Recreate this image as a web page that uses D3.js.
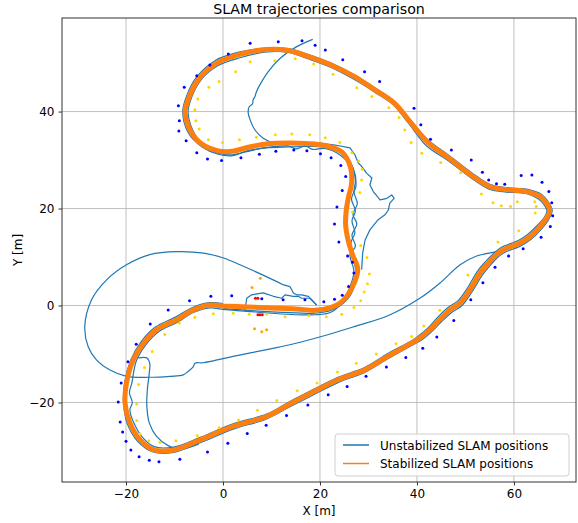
<!DOCTYPE html>
<html>
<head>
  <meta charset="utf-8">
  <title>SLAM trajectories comparison</title>
  <script src="https://cdnjs.cloudflare.com/ajax/libs/d3/7.8.5/d3.min.js"></script>
  <style>
    body { margin: 0; background: #fff; }
    text { font-family: "DejaVu Sans", sans-serif; fill: #000; }
  </style>
</head>
<body>
<script>
var width = 578, height = 523;

var xTicks = [-20, 0, 20, 40, 60];
var yTicks = [-20, 0, 20, 40];

// stabilized positions (one lap, [x, y] in m)
var stabilized = [[0,-0.1],[5,-0.3],[10,-0.5],[15,-0.7],[19,-1.0],[22,-0.5],[24.5,0.8],[26.5,3.5],[27.8,7.4],[26.7,10.5],[25.8,13.5],[25.3,16.5],[25.4,19.5],[25.9,22.5],[26.5,25],[26.3,28.5],[24.6,31.6],[21,33],[17,33.4],[13.5,33.5],[9,33.3],[5,32.6],[2,31.8],[-1,31.9],[-4.5,33.4],[-6.8,36.2],[-7.8,40],[-6.9,43.2],[-4.8,47],[-1.3,50],[3.5,51.8],[9,52.8],[13.5,52.6],[17.5,51.4],[22.3,49.6],[27.1,47.2],[31.3,44.5],[35.4,41.7],[38.8,37.6],[42.3,33.6],[46.6,30.4],[51.3,26.8],[55.1,24.5],[58.5,23.9],[62.6,23.5],[65.4,22.5],[66.7,21.1],[67.4,19.7],[66.7,18],[65.4,16.3],[63.3,14.2],[61.2,12.9],[57.8,11.5],[56.4,10.5],[54.4,8.4],[53,6.7],[50.9,3.2],[48.9,0.5],[46.8,-0.9],[44.7,-2.9],[42.7,-5],[40.6,-6.7],[38.8,-7.8],[34,-10.5],[29.2,-13.3],[23.7,-15.3],[18.9,-17.7],[13.6,-20.4],[9,-22.9],[2.1,-24.9],[-4.7,-27.7],[-10.2,-29.8],[-14.4,-29.7],[-17.1,-27.7],[-19.2,-24.2],[-20.2,-20.1],[-19.9,-16],[-18.5,-11.2],[-16.4,-7.8],[-13.7,-5],[-9.5,-2.9],[-6.1,-0.9],[-2.7,0.1],[0,-0.1]];

// unstabilized positions, laps along the track
var unstabLapA = [[0,-0.6],[5,-1.0],[10,-1.3],[15,-1.5],[19,-1.6],[22.5,-0.9],[25,0.6],[26.8,3.2],[27.4,7.0],[26.6,10.5],[26.4,13.0],[27.2,15.0],[26.6,17.5],[27.3,19.5],[26.5,22],[27.4,24.5],[26.9,28.2],[24.9,31.2],[21,32.6],[17,32.8],[13.5,32.7],[9,32.5],[5,31.9],[2,30.9],[-1,31.2],[-4.3,32.7],[-7.2,35.7],[-8.3,40],[-7.4,43.5],[-5.3,47.3],[-1.5,50.6],[1,51.6],[3.5,52.3],[9,53.1],[13.5,53],[17.5,51.8],[22.3,50],[27.1,47.6],[31.3,44.9],[35.4,42.1],[38.6,38.4],[42,34.4],[46.8,30.8],[51.4,27.3],[55,25],[58.5,24.3],[62.6,24],[65.7,22.9],[67.2,21.2],[67.9,19.7],[67.2,17.8],[65.8,15.9],[63.6,13.7],[61.4,12.3],[58,10.9],[56.6,9.9],[54.8,7.9],[53.5,6.3],[51.4,2.9],[49.3,0],[47.2,-1.4],[45,-3.4],[42.9,-5.5],[40.8,-7.2],[38.6,-8.4],[34,-11],[29.2,-13.8],[23.7,-15.9],[18.9,-18.3],[13.6,-21],[9,-23.4],[2.1,-25.5],[-4.7,-28.3],[-10.2,-30.3],[-14.4,-30.2],[-17.6,-28],[-19.8,-24.2],[-20.5,-20.1],[-20.3,-16],[-19,-11.2],[-16.9,-7.5],[-14,-4.5],[-9.8,-2.4],[-6.3,-0.4],[-2.7,0.6],[0,0.4]];
var unstabLapB = [[0,-0.8],[5,-1.2],[10,-1.6],[15,-1.9],[19,-1.9],[22,-1.5],[24.2,0.2],[26,3.4],[27,7],[26.2,10.5],[27.3,12.2],[26.6,14.5],[27.6,16.8],[26.8,18.8],[27.7,21],[27,23.4],[27.3,25.6],[26.8,28],[24.2,31],[21,32.4],[18.5,32.2],[17,32.9],[15,32.3],[13.5,32.9],[9,32.6],[6,32],[3.5,31.4],[2,31.1],[-1,31.4],[-4,32.9],[-6.3,36.3],[-7.2,40],[-6.4,43.1],[-4.4,46.7],[-1,49.5],[3.5,51.1],[9,52.3],[13.5,52.2],[17.5,50.9],[22.3,49.1],[27.1,46.6],[31.3,44],[35,41.5],[38.4,37.4],[41.9,33],[46.4,29.9],[51.3,26.2],[54.9,24],[58.5,23.4],[62.5,23.1],[65,22],[66.2,20.8],[66.8,19.6],[66.2,18.1],[64.9,16.6],[62.9,14.7],[60.9,13.4],[57.6,12.1],[56.1,11],[54,8.9],[52.5,7.1],[50.4,3.6],[48.5,1],[46.4,-0.4],[44.3,-2.4],[42.4,-4.5],[40.4,-6.2],[39,-7.2],[34,-9.9],[29.2,-12.8],[23.7,-14.8],[18.9,-17.2],[13.6,-19.9],[9,-22.4],[2.1,-24.4],[-4.7,-27.2],[-10.2,-29.2],[-14.2,-29.1],[-16.6,-27.2],[-18.4,-24.2],[-19.2,-21.5],[-18.7,-20],[-19.3,-18],[-18.8,-16],[-17.9,-11.5],[-16,-8.2],[-13.4,-5.5],[-9.3,-3.4],[-6,-1.4],[-2.7,-0.5],[0,-0.8]];

// unstabilized positions, drifting parts
var unstabUpper = [[18.5,54.9],[15.2,53.4],[11.8,51],[9.3,48.2],[7.6,45.5],[6.9,44.1],[6.6,43.1],[6.2,42.4],[6.1,41.6],[5.4,41],[5.2,39.7],[5.6,38.3],[6.6,36.2],[8.3,34.5],[10.4,33.5],[13.5,33.1]];
var unstabMiddle = [[20,33.5],[23.1,33.1],[26.2,32.5],[27.2,31.1],[27.9,29.4],[28.6,28.7],[29.6,27.3],[30.7,26.3],[30.3,24.9],[31,23.5],[32.4,21.8],[33.8,22.1],[34.8,22.8],[35.3,22.1],[34.4,21.1],[34.1,19.7],[33.4,18.7],[32,17.7],[30.3,15.6],[29.3,13.5],[28.8,10.8],[28.6,7.4]];
var unstabLoop = [[57.5,11.4],[56.4,11.1],[52.3,10.2],[48.9,8.4],[44.7,4.6],[40.6,1.5],[34,-2.1],[27.2,-4.3],[20.3,-6.4],[13.8,-8.1],[8,-9.3],[2.1,-10.5],[-2,-11.4],[-4.1,-11.8],[-5.8,-11.9],[-6.1,-12.6],[-7.2,-13.6],[-8.2,-14.3],[-10.9,-14.6],[-15.1,-14.8],[-19.9,-14.6],[-23.3,-13.3],[-26.1,-11.2],[-27.8,-8.5],[-28.5,-4.3],[-27.1,1.2],[-24,5.3],[-19.9,8.4],[-15.1,10.5],[-9.5,11.1],[-4,10.8],[0.1,9.8],[3.5,8.4],[9.7,5.6],[12.4,4.3]];
var unstabJag = [[12.4,4.3],[13.8,3.9],[14.2,3.2],[14.5,2.6],[15.2,2.2],[16.2,2.2],[17.6,1.9],[18.3,1.2],[19.3,0.1]];
var unstabJag2 = [[4.5,-1.2],[4.9,1.5],[5.9,2.2],[8.3,2.6],[10.4,1.9],[12.1,1.5],[12.8,2.2],[14.5,1.9],[15.5,1.9],[16.2,1.5],[17.9,1.5],[19.3,0.1]];
var unstabHook = [[-17.5,-10.8],[-15.7,-10.8],[-15.1,-11.9],[-15.2,-13.9],[-15.6,-17.4],[-15.7,-20.8],[-15.2,-24.2],[-13.7,-27],[-11.3,-28.9],[-8.9,-29.6],[-5,-28.6]];

// cones
var blueCones = [[5.6,54.1],[11.4,54.4],[1.1,51.9],[-2.7,49.6],[-5.4,47.4],[-8,45],[-9.2,41.2],[-9,38.1],[-9.1,36],[-7.6,34],[-5.4,31.5],[-3.2,30.2],[-0.3,29.9],[3.7,30.5],[7.5,31.2],[10.9,31.8],
  [16.3,54.6],[19,53.7],[21.1,52.7],[24.7,50.7],[29.2,48.2],[32.3,46.2],[39.4,40.7],[40.8,37.3],[42.8,34.3],[47.1,32.1],[51.2,30],[53.5,27.5],[54.8,25.9],[56.4,25.1],[58.1,25],[61.5,26.8],[63.7,26.9],[65.8,25.4],[67.2,23.5],[67.8,21.2],[68,18.5],[67.5,16.3],[65.6,14.1],[61.9,11.7],[58.9,10.2],
  [14.6,32.1],[17.3,31.9],[20.1,31.3],[22.3,30.5],[24.3,28.9],[25.3,26.6],[24.6,23.7],[23.5,20.3],[23,16.8],[23.9,13.1],[25.7,10.2],[26.7,8.9],[27,6.7],[25.9,3.9],[24.6,2.1],[23,1.3],[20.8,0.8],[16.9,1.2],[12.4,1.2],[8,1.4],[1.8,2.0],[-2.5,1.9],[-6.9,1],[-11.3,-0.9],[-15,-3.8],[-17.9,-8],[-19.6,-11.6],[-21,-16],[-21.6,-19.9],[-21.2,-24],[-20.7,-26.1],[-20,-28],[-19,-29.8],[-17.3,-31.2],[-15.2,-31.9],[-13.2,-32.2],[-8.9,-31.7],[-3.2,-30.2],[1,-28.4],[5,-26.4],[8.9,-24.7],[13.1,-22.7],[17.5,-20.5],[21.7,-18.4],[25.6,-16.7],[29.5,-14.6],[33.7,-12.7],[37.7,-10.7],[41.2,-8.8],[44.1,-6.5],[47.6,-3.1],[51.1,1.2],[53.6,4.7],[56.1,7.9]];
var yellowCones = [[2.6,48.2],[5.6,50.3],[10.7,50.5],[-0.8,46.2],[-2.9,45],[-5.2,42.6],[-5.8,40.4],[-5.6,38.1],[-4.9,36.4],[-3,34.2],[-0.1,33.6],[3.4,34.2],[6.9,34.7],[10.8,35.2],[14.2,35.4],[17.9,35.2],[21.1,34.6],[24.1,33.6],[26.6,31.5],[28,29.8],[28.7,28.1],[28.6,25.9],[28.2,23.3],[26.7,19.3],[28.4,12.4],[29.7,9.9],[30.2,6.5],[29.8,4.5],[29.1,2.8],[28.4,1],[27,-0.4],[24.5,-1.8],[21.3,-2.3],[17.7,-2.1],[12.8,-2.3],[9,-1.8],[5.4,-1.8],[2.1,-1.6],[-2,-1.7],[-5.8,-2.4],[-9,-3.6],[-12,-6],[-14.6,-9.5],[-16.2,-12.8],[-17.4,-16.3],[-17.8,-20.3],[-17.8,-23.7],[-17.1,-26.5],[-15.3,-27.9],[-13,-28.2],[-9.7,-27.9],[-5.3,-26.8],[-0.8,-25.2],[3.2,-23.6],[7.1,-21.6],[11.1,-19.6],[15.3,-17.6],[19.4,-16],[23.6,-13.7],[27.5,-11.9],[31.6,-10],[35.7,-7.9],[38.9,-6.4],[41.4,-4.2],[44.7,-1],[50.5,6.3],[56.7,13.1],[61,15.4],[64.4,19.1],[64.6,20.4],[64.3,21.4],[60.7,21.4],[59.3,20.4],[57.4,20.6],[55.7,21.2],[53.3,23],[49,27.4],[44.9,29.5],[41,31.4],[38.8,33.6],[37.5,36.2],[36.3,38.8],[34.2,40.8],[30.7,43.1],[27.6,44.9],[22.7,47.7],[18.7,49.8],[14.9,50.9]];
var orangeCones = [[6,3.7],[7.7,5.6],[6.5,-4.8],[8,-5.4],[9,-5]];
var redCones = [[6.7,1.5],[7.2,1.5],[7.2,-1.9],[7.6,-1.9],[8.1,-1.9]];

var legendLabels = ["Unstabilized SLAM positions", "Stabilized SLAM positions"];

var padL = 62, padR = 576, padT = 18, padB = 482;
var x = d3.scaleLinear().domain([-33.2, 72.8]).range([padL, padR]);
var y = d3.scaleLinear().domain([-36.4, 59.3]).range([padB, padT]);

var svg = d3.select("body").append("svg").attr("width", width).attr("height", height);

// grid
svg.append("g").selectAll("line").data(xTicks).enter().append("line")
   .attr("x1", function(d) { return x(d); }).attr("x2", function(d) { return x(d); })
   .attr("y1", padT).attr("y2", padB)
   .attr("stroke", "#b0b0b0").attr("stroke-width", 0.8);
svg.append("g").selectAll("line").data(yTicks).enter().append("line")
   .attr("y1", function(d) { return y(d); }).attr("y2", function(d) { return y(d); })
   .attr("x1", padL).attr("x2", padR)
   .attr("stroke", "#b0b0b0").attr("stroke-width", 0.8);

var line = d3.line().x(function(d) { return x(d[0]); }).y(function(d) { return y(d[1]); });
var smooth = d3.line().curve(d3.curveCatmullRom.alpha(0.5))
   .x(function(d) { return x(d[0]); }).y(function(d) { return y(d[1]); });
var plot = svg.append("g");

var smoothParts = [unstabLapA, unstabLapB, unstabUpper, unstabLoop, unstabHook];
var jagParts = [unstabMiddle, unstabJag, unstabJag2];
plot.selectAll("path.us").data(smoothParts).enter().append("path")
   .attr("class", "us")
   .attr("d", smooth)
   .attr("fill", "none").attr("stroke", "#1f77b4").attr("stroke-width", 1.2);
plot.selectAll("path.uj").data(jagParts).enter().append("path")
   .attr("class", "uj")
   .attr("d", line)
   .attr("fill", "none").attr("stroke", "#1f77b4").attr("stroke-width", 1.2)
   .attr("stroke-linejoin", "round");

plot.append("path")
   .attr("d", smooth(stabilized))
   .attr("fill", "none").attr("stroke", "#ff7f0e").attr("stroke-width", 5)
   .attr("stroke-linejoin", "round");

function cones(data, color) {
  plot.append("g").selectAll("circle").data(data).enter().append("circle")
     .attr("cx", function(d) { return x(d[0]); })
     .attr("cy", function(d) { return y(d[1]); })
     .attr("r", 1.5)
     .attr("fill", color);
}
cones(blueCones, "#0000ff");
cones(yellowCones, "#ffd700");
cones(orangeCones, "#ffa500");
cones(redCones, "#ff0000");

// frame
svg.append("rect").attr("x", padL).attr("y", padT)
   .attr("width", padR - padL).attr("height", padB - padT)
   .attr("fill", "none").attr("stroke", "#333").attr("stroke-width", 1);

// axes
var xAxis = svg.append("g").attr("transform", "translate(0," + padB + ")")
   .call(d3.axisBottom(x).tickValues(xTicks).tickSize(3.5).tickPadding(4));
var yAxis = svg.append("g").attr("transform", "translate(" + padL + ",0)")
   .call(d3.axisLeft(y).tickValues(yTicks).tickSize(3.5).tickPadding(4));
[xAxis, yAxis].forEach(function(a) {
  a.select(".domain").remove();
  a.selectAll("text").attr("font-size", 12).attr("font-family", "DejaVu Sans, sans-serif");
  a.selectAll("line").attr("stroke", "#333");
});

svg.append("text").attr("x", (padL + padR) / 2).attr("y", 14)
   .attr("text-anchor", "middle").attr("font-size", 14.2)
   .text("SLAM trajectories comparison");
svg.append("text").attr("x", (padL + padR) / 2).attr("y", 515)
   .attr("text-anchor", "middle").attr("font-size", 12)
   .text("X [m]");
svg.append("text").attr("transform", "translate(22," + (padT + padB) / 2 + ") rotate(-90)")
   .attr("text-anchor", "middle").attr("font-size", 12)
   .text("Y [m]");

// legend
var lg = svg.append("g");
lg.append("rect").attr("x", 335).attr("y", 434).attr("width", 234).attr("height", 42)
   .attr("rx", 3).attr("fill", "#fff").attr("fill-opacity", 0.8)
   .attr("stroke", "#d0d0d0").attr("stroke-width", 1);
var legendColors = ["#1f77b4", "#ff7f0e"];
legendLabels.forEach(function(t, i) {
  var yy = 445 + i * 18.5;
  lg.append("line").attr("x1", 343).attr("x2", 369).attr("y1", yy).attr("y2", yy)
     .attr("stroke", legendColors[i]).attr("stroke-width", 1.5);
  lg.append("text").attr("x", 380).attr("y", yy + 4.5).attr("font-size", 12).text(t);
});
</script>
</body>
</html>
